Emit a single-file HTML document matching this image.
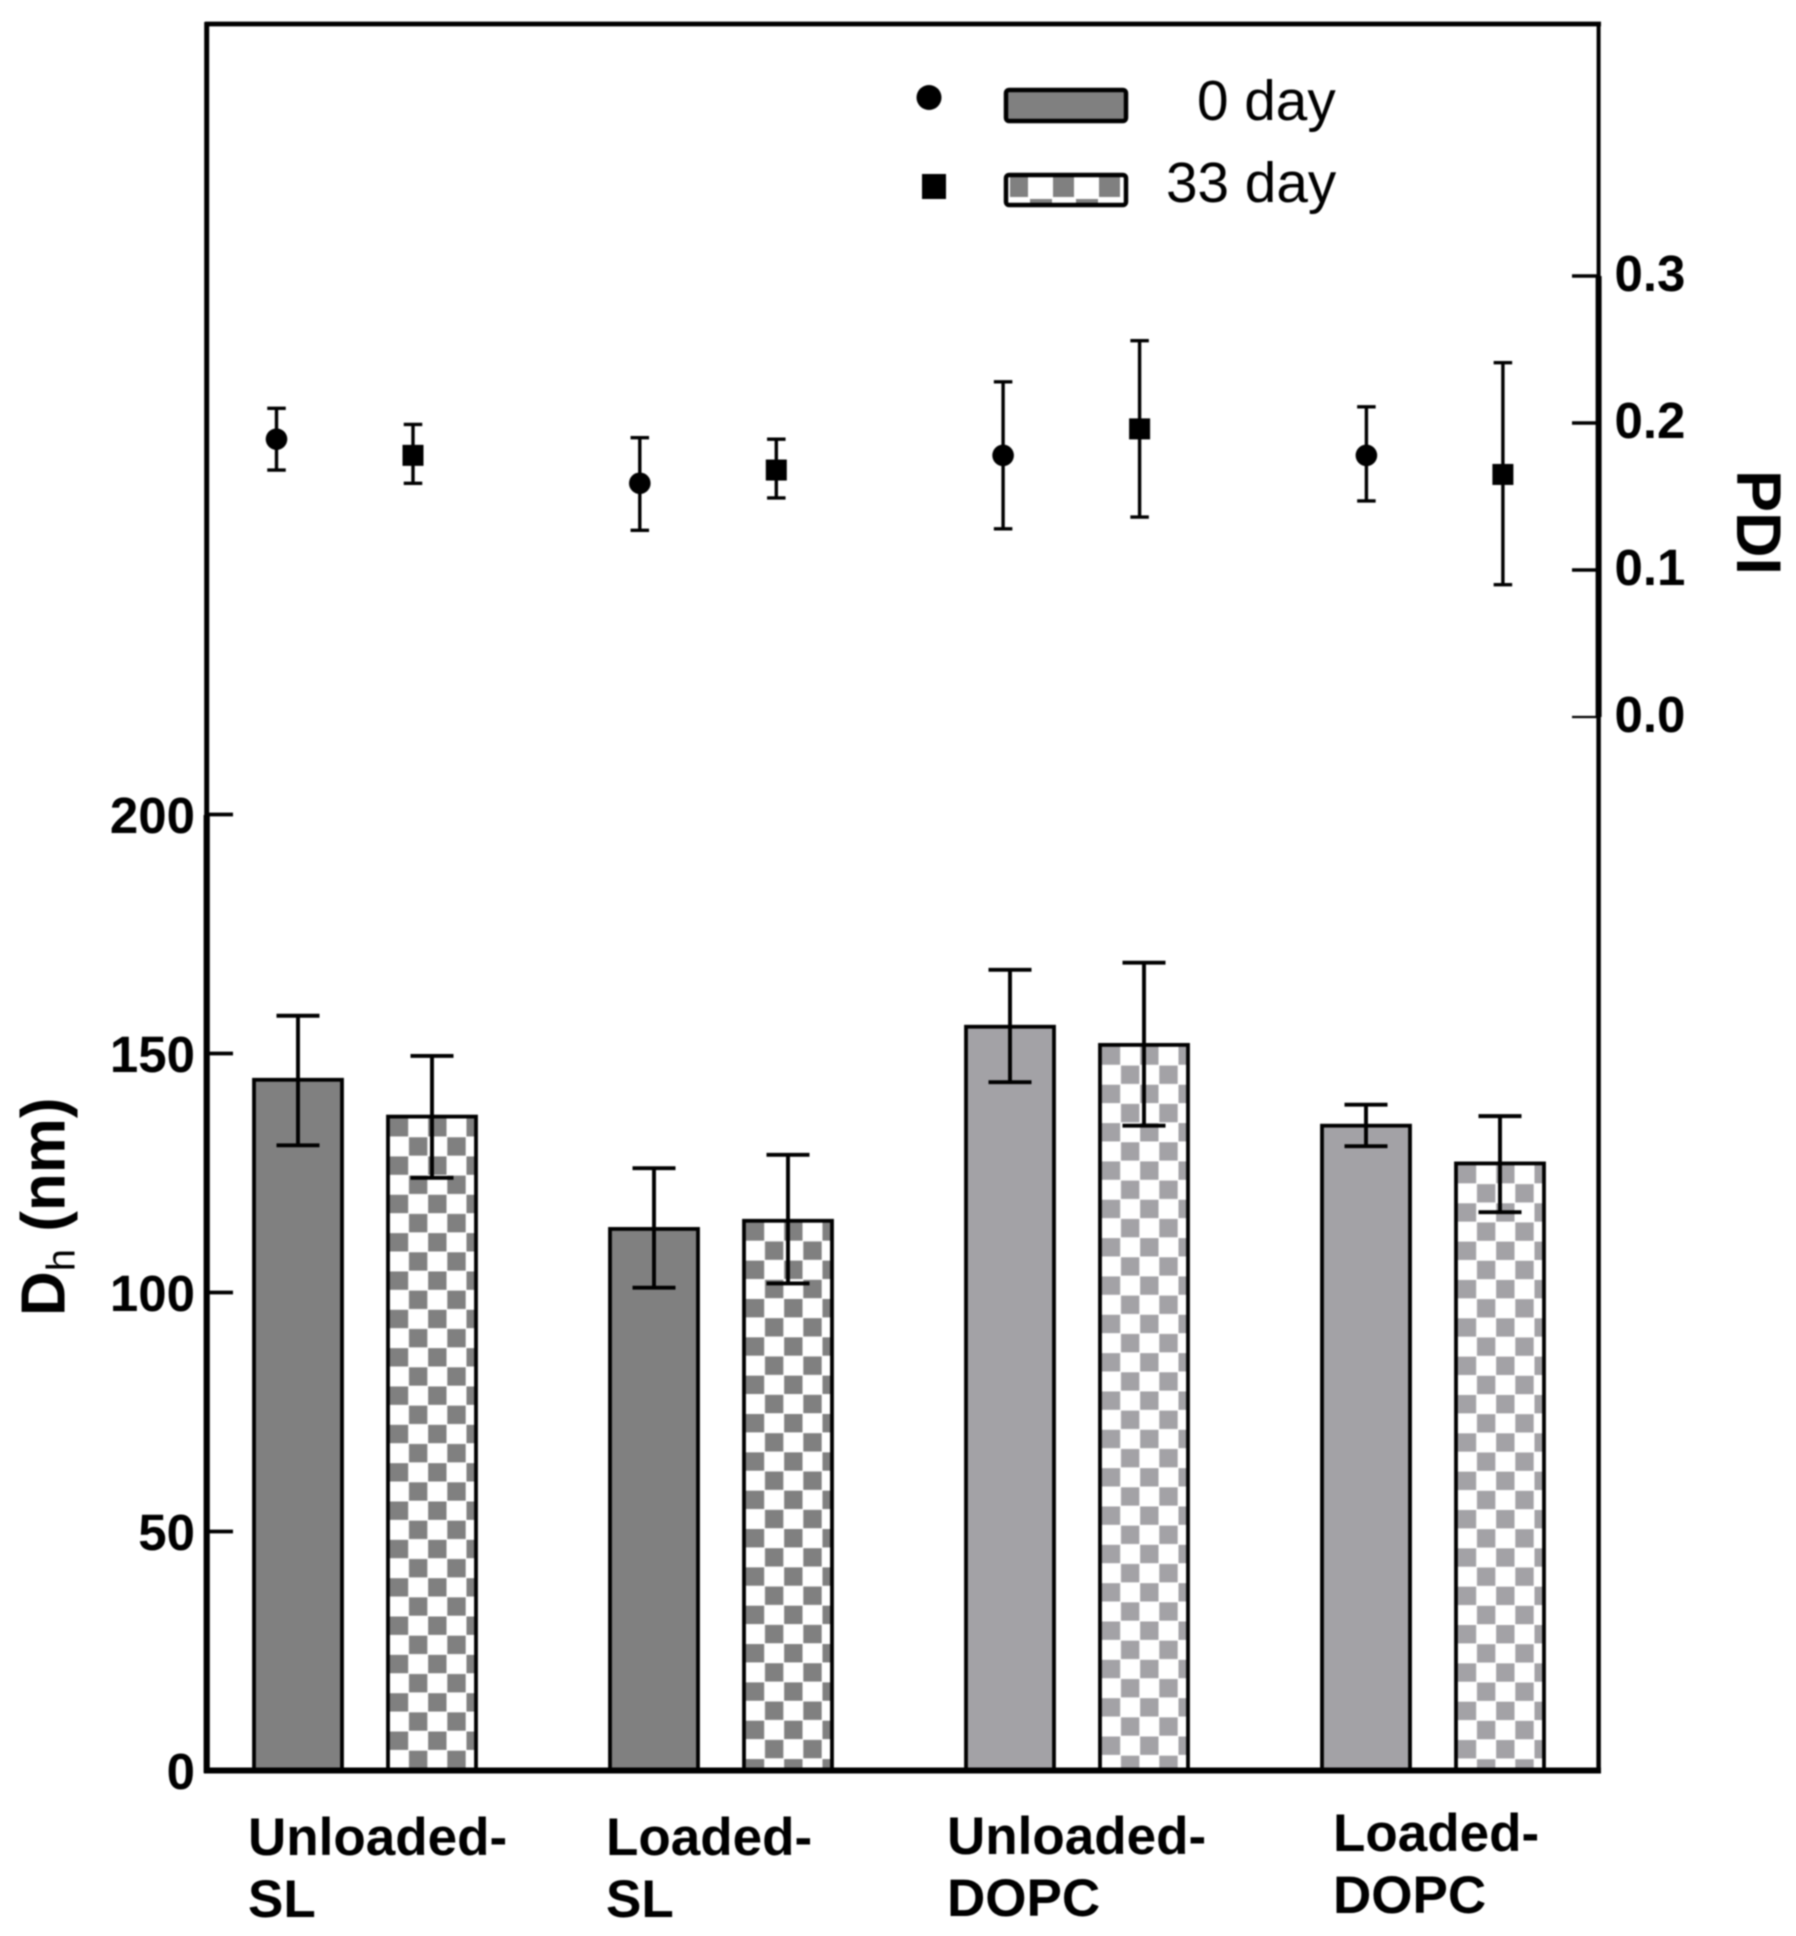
<!DOCTYPE html>
<html lang="en">
<head>
<meta charset="utf-8">
<title>Dh and PDI bar chart</title>
<style>
html,body{margin:0;padding:0;background:#fff;width:1796px;height:1936px;overflow:hidden}
svg{display:block;filter:blur(0.7px)}
text{font-family:"Liberation Sans",Arial,sans-serif;fill:#000}
.b{font-weight:700}
</style>
</head>
<body>
<svg id="chart" xmlns="http://www.w3.org/2000/svg" width="1796" height="1936" viewBox="0 0 1796 1936">
  <rect x="0" y="0" width="1796" height="1936" fill="#fff"/>
  <defs id="defs"></defs>
  <g id="bars"></g>
  <g id="axes">
    <line x1="205" y1="24" x2="1601" y2="24" stroke="#000" stroke-width="4.8"/>
    <line x1="206.7" y1="22" x2="206.7" y2="815" stroke="#000" stroke-width="5"/>
    <line x1="206.7" y1="815" x2="206.7" y2="1773" stroke="#000" stroke-width="6.2"/>
    <line x1="1598.6" y1="22" x2="1598.6" y2="276" stroke="#000" stroke-width="4"/>
    <line x1="1598.6" y1="276" x2="1598.6" y2="717" stroke="#000" stroke-width="6"/>
    <line x1="1598.6" y1="717" x2="1598.6" y2="1773" stroke="#000" stroke-width="4.5"/>
    <line x1="204" y1="1770.5" x2="1601" y2="1770.5" stroke="#000" stroke-width="6"/>
  </g>
  <g id="ticks"></g>
  <g id="points"></g>

  <text class="b" font-size="62" transform="translate(64.5,1316) rotate(-90)">D<tspan font-size="40" dy="10" font-weight="400">h</tspan><tspan dy="-10"> (nm)</tspan></text>
  <text class="b" font-size="63" transform="translate(1737,470) rotate(90)">PDI</text>

  <g>
    <g><text class="b" font-size="53" x="248" y="1855">Unloaded-</text><text class="b" font-size="53" x="248" y="1917">SL</text></g>
    <g><text class="b" font-size="53" x="606" y="1855">Loaded-</text><text class="b" font-size="53" x="606" y="1917">SL</text></g>
    <g><text class="b" font-size="53" x="947" y="1854">Unloaded-</text><text class="b" font-size="53" x="947" y="1916">DOPC</text></g>
    <g><text class="b" font-size="53" x="1333" y="1851">Loaded-</text><text class="b" font-size="53" x="1333" y="1913">DOPC</text></g>
  </g>

  <g id="legend">
    <g>
      <circle cx="929" cy="97.5" r="12.5" fill="#000"/>
      <rect x="1006" y="90" width="120" height="31" rx="3" fill="#808080" stroke="#000" stroke-width="4.5"/>
      <text font-size="56.7" x="1197" y="120">0 day</text>
    </g>
    <g>
      <rect x="922" y="174" width="24" height="25" fill="#000"/>
      <rect x="1006" y="175" width="120" height="30" rx="3" fill="#fff"/>
      <rect x="1010" y="177" width="18" height="20" fill="#808080"/>
      <rect x="1053" y="177" width="21" height="20" fill="#808080"/>
      <rect x="1099" y="177" width="21" height="20" fill="#808080"/>
      <rect x="1030" y="199" width="22" height="4" fill="#808080"/>
      <rect x="1076" y="199" width="22" height="4" fill="#808080"/>
      <rect x="1006" y="175" width="120" height="30" rx="3" fill="none" stroke="#000" stroke-width="4.5"/>
      <text font-size="56.7" x="1166" y="202">33 day</text>
    </g>
  </g>
</svg>
<script>
const categories = ["Unloaded-SL", "Loaded-SL", "Unloaded-DOPC", "Loaded-DOPC"];
const seriesNames = ["0 day", "33 day"];

const dhDay0 = [144.5, 113.3, 155.6, 134.9];
const dhDay0Upper = [157.9, 126, 167.5, 139.3];
const dhDay0Lower = [130.8, 101, 144, 130.6];
const dhDay33 = [136.8, 115, 151.8, 127];
const dhDay33Upper = [149.5, 128.8, 169, 136.9];
const dhDay33Lower = [124, 101.9, 134.9, 116.8];

const pdiDay0 = [0.189, 0.159, 0.178, 0.178];
const pdiDay0Upper = [0.21, 0.19, 0.228, 0.211];
const pdiDay0Lower = [0.168, 0.127, 0.128, 0.147];
const pdiDay33 = [0.178, 0.168, 0.196, 0.165];
const pdiDay33Upper = [0.199, 0.189, 0.256, 0.241];
const pdiDay33Lower = [0.159, 0.149, 0.136, 0.09];

const dhTicks = [0, 50, 100, 150, 200];
const pdiTicks = [0, 0.1, 0.2, 0.3];

const SVGNS = "http://www.w3.org/2000/svg";
const yDh = function (v) { return 1770.5 - v * 4.78; };
const yPdi = function (v) { return 717 - v * 1470; };
const xBar = function (g, s) { return 254 + 356 * g + 134 * s; };
const xPdi = function (g, s) { return 276.5 + 363.3 * g + 136.5 * s; };
const BAR_W = 88;
const CELL = 19.17;

const make = function (parent, tag, attrs) {
  const el = document.createElementNS(SVGNS, tag);
  for (const k in attrs) { el.setAttribute(k, attrs[k]); }
  parent.appendChild(el);
  return el;
};
const groupFill = function (g) { return g < 2 ? "#808080" : "#a3a2a6"; };

const barsLayer = document.getElementById("bars");
const ticksLayer = document.getElementById("ticks");
const pointsLayer = document.getElementById("points");
const defs = document.getElementById("defs");

function drawErrorBar(parent, x, yTop, yBottom, capW, sw, name) {
  const stem = make(parent, "line", { x1: x, x2: x, y1: yTop, y2: yBottom, stroke: "#000", "stroke-width": sw });
  
  
  const top = make(parent, "line", { x1: x - capW / 2, x2: x + capW / 2, y1: yTop, y2: yTop, stroke: "#000", "stroke-width": sw });
  
  
  const bottom = make(parent, "line", { x1: x - capW / 2, x2: x + capW / 2, y1: yBottom, y2: yBottom, stroke: "#000", "stroke-width": sw });
  
  
}

function drawBar(g, s, value, upper, lower) {
  const x = xBar(g, s);
  const top = yDh(value);
  const h = yDh(0) - top;
  let fill = groupFill(g);
  if (s === 1) {
    const id = "checker-" + g;
    const p = make(defs, "pattern", { id: id, patternUnits: "userSpaceOnUse", x: x + 1.3, y: top + 1, width: CELL * 2, height: CELL * 2 });
    make(p, "rect", { x: 0, y: 0, width: CELL * 2, height: CELL * 2, fill: "#fff" });
    make(p, "rect", { x: 0.5, y: 0.5, width: CELL - 0.8, height: CELL - 0.8, fill: fill });
    make(p, "rect", { x: CELL + 0.5, y: CELL + 0.5, width: CELL - 0.8, height: CELL - 0.8, fill: fill });
    fill = "url(#" + id + ")";
  }
  const rect = make(barsLayer, "rect", { x: x, y: top, width: BAR_W, height: h, fill: fill, stroke: "#000", "stroke-width": 3.8 });
  
  
  drawErrorBar(barsLayer, x + BAR_W / 2, yDh(upper), yDh(lower), 43, 3.9, 'dh-error-' + g + '-' + s);
}

function drawPoint(g, s, value, upper, lower) {
  const x = xPdi(g, s);
  const y = yPdi(value);
  drawErrorBar(pointsLayer, x, yPdi(upper), yPdi(lower), 18.5, 3.4, 'pdi-error-' + g + '-' + s);
  let mark;
  if (s === 0) {
    mark = make(pointsLayer, "circle", { cx: x, cy: y, r: 10.8, fill: "#000" });
  } else {
    mark = make(pointsLayer, "rect", { x: x - 10.5, y: y - 10.5, width: 21, height: 21, fill: "#000" });
  }
  
  
}

categories.forEach(function (c, g) {
  drawBar(g, 0, dhDay0[g], dhDay0Upper[g], dhDay0Lower[g]);
  drawBar(g, 1, dhDay33[g], dhDay33Upper[g], dhDay33Lower[g]);
  drawPoint(g, 0, pdiDay0[g], pdiDay0Upper[g], pdiDay0Lower[g]);
  drawPoint(g, 1, pdiDay33[g], pdiDay33Upper[g], pdiDay33Lower[g]);
});

dhTicks.forEach(function (v) {
  const y = yDh(v);
  if (v > 0) {
    const t = make(ticksLayer, "line", { x1: 206, x2: 233, y1: y, y2: y, stroke: "#000", "stroke-width": 3.8 });
    
    
  }
  const label = make(ticksLayer, "text", { x: 195, y: y + 18.5, "text-anchor": "end", "font-size": 51, "font-weight": 700 });
  label.textContent = String(v);
  
  
});

pdiTicks.forEach(function (v) {
  const y = yPdi(v);
  const t = make(ticksLayer, "line", { x1: 1572, x2: 1599, y1: y, y2: y, stroke: "#000", "stroke-width": v === 0 ? 2.2 : 3.5 });
  
  
  const label = make(ticksLayer, "text", { x: 1614.5, y: y + 15, "font-size": 51, "font-weight": 700 });
  label.textContent = v.toFixed(1);
  
  
});
</script>
</body>
</html>
